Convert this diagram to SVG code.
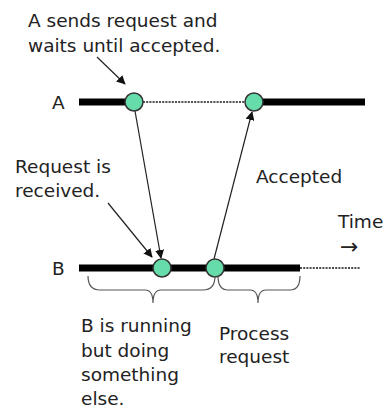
<svg xmlns="http://www.w3.org/2000/svg" width="385" height="408" viewBox="0 0 385 408">
  <style>
    text { font-family: "DejaVu Sans", Verdana, sans-serif; font-size: 18.5px; fill: #222; }
    .bar { stroke: #000; stroke-width: 7; }
    .dot { stroke: #111; stroke-width: 1.6; stroke-dasharray: 2 1.2; }
    .evt { fill: #66dcaa; stroke: #333; stroke-width: 1.5; }
    .msg { stroke: #222; stroke-width: 1.2; fill: none; marker-end: url(#head); }
    .brace { stroke: #555; stroke-width: 1.2; fill: none; }
  </style>
  <defs>
    <marker id="head" viewBox="0 0 10 10" refX="9" refY="5" markerWidth="9" markerHeight="9" markerUnits="userSpaceOnUse" orient="auto">
      <path d="M0,0 L10,5 L0,10 z" fill="#111"/>
    </marker>
  </defs>

  <!-- process timelines -->
  <g id="timeline-A">
    <text x="52" y="109">A</text>
    <line class="bar" x1="79" y1="102" x2="134" y2="102"/>
    <line class="dot" x1="143" y1="102" x2="246" y2="102"/>
    <line class="bar" x1="254" y1="102" x2="365" y2="102"/>
  </g>
  <g id="timeline-B">
    <text x="52" y="275">B</text>
    <line class="bar" x1="79" y1="268" x2="300" y2="268"/>
    <line class="dot" x1="300" y1="268" x2="360" y2="268"/>
  </g>

  <!-- message connectors -->
  <g id="connectors">
    <line class="msg" x1="135" y1="111" x2="161" y2="258"/>
    <line class="msg" x1="214" y1="259" x2="252" y2="112"/>
    <line class="msg" x1="97" y1="57" x2="125" y2="84"/>
    <line class="msg" x1="108" y1="203" x2="152" y2="257"/>
  </g>

  <!-- events -->
  <g id="send-A"><circle class="evt" cx="134" cy="102" r="9"/></g>
  <g id="accept-A"><circle class="evt" cx="254" cy="102" r="9"/></g>
  <g id="receive-B"><circle class="evt" cx="162" cy="268" r="9"/></g>
  <g id="reply-B"><circle class="evt" cx="215" cy="268" r="9"/></g>

  <!-- braces under timeline B -->
  <g id="brace-running">
    <path class="brace" d="M88,276 Q88,290 100,290 L145,290 Q153,290 153,303 Q153,290 161,290 L203,290 Q215,290 215,276"/>
  </g>
  <g id="brace-process">
    <path class="brace" d="M218,276 Q218,290 228,290 L250,290 Q258,290 258,303 Q258,290 266,290 L290,290 Q300,290 300,276"/>
  </g>

  <!-- labels -->
  <g id="label-send">
    <text x="28" y="27">A sends request and</text>
    <text x="28" y="52">waits until accepted.</text>
  </g>
  <g id="label-received">
    <text x="15" y="173">Request is</text>
    <text x="15" y="197">received.</text>
  </g>
  <g id="label-accepted"><text x="256" y="183">Accepted</text></g>
  <g id="label-time">
    <text x="338" y="228">Time</text>
    <text x="340" y="254" style="font-size:22px">→</text>
  </g>
  <g id="label-running">
    <text x="81" y="332">B is running</text>
    <text x="81" y="357">but doing</text>
    <text x="81" y="381">something</text>
    <text x="81" y="405">else.</text>
  </g>
  <g id="label-process">
    <text x="219" y="340">Process</text>
    <text x="219" y="363">request</text>
  </g>
</svg>
